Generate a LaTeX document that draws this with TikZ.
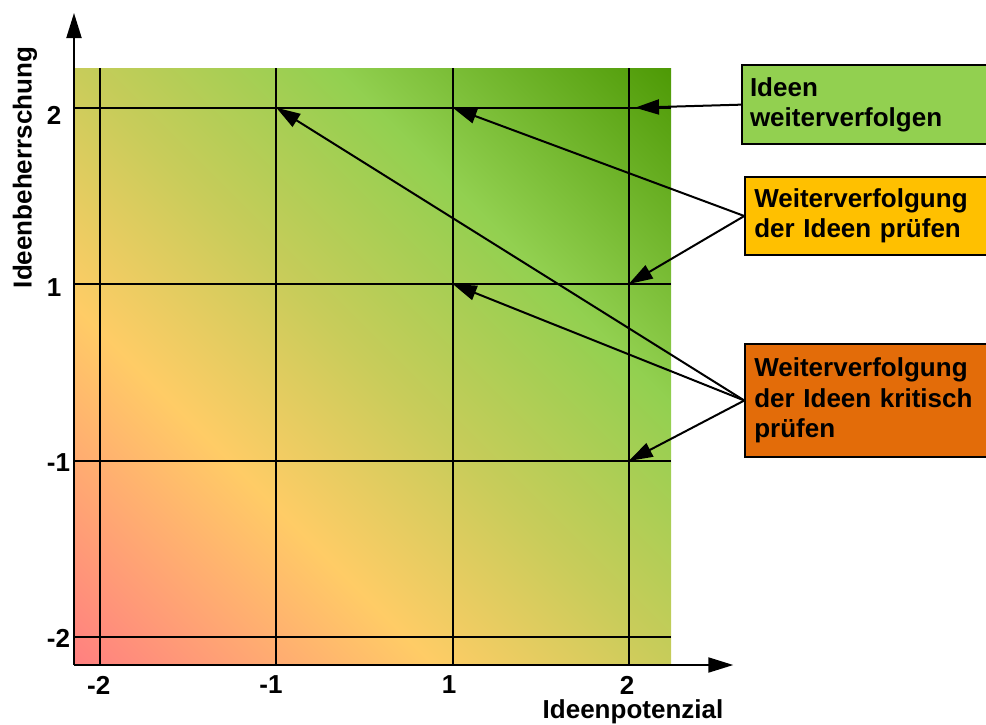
\documentclass[tikz,border=0pt]{standalone}
\usepackage{fontspec}
\setmainfont{Liberation Sans}
\usetikzlibrary{arrows.meta}
\definecolor{cpink}{HTML}{FF8080}
\definecolor{cyel}{HTML}{FFCC66}
\definecolor{cmid}{HTML}{C8CC5A}
\definecolor{clg}{HTML}{92D050}
\definecolor{cdg}{HTML}{4E9A06}
\definecolor{boxgreen}{HTML}{92D050}
\definecolor{boxyellow}{HTML}{FFC000}
\definecolor{boxorange}{HTML}{E36C09}
\pgfdeclarehorizontalshading{ideagrad}{100bp}{color(0bp)=(cpink); color(14.64bp)=(cpink); color(35.86bp)=(cyel); color(50bp)=(cmid); color(65.56bp)=(clg); color(85.36bp)=(cdg); color(100bp)=(cdg)}
\begin{document}
\begin{tikzpicture}[x=1pt,y=-1pt,
  every node/.style={font=\fontsize{26}{30.5}\selectfont\bfseries},
  gridline/.style={line width=2pt,black},
  axisline/.style={line width=2pt,black,-{Triangle[length=25pt,width=15pt]}},
  conn/.style={line width=2pt,black,-{Triangle[length=24pt,width=15pt]}},
  lbl/.style={inner sep=0pt},
  infobox/.style={draw=black,line width=2pt,anchor=north west,align=left,inner ysep=2pt}]
\useasboundingbox (0,0) rectangle (986,724);
% gradient field
\shade[shading=ideagrad,shading angle=45] (74,68) rectangle (671,665);
% grid
\foreach \x in {100,276.3,452.7,628.7}
  \draw[gridline] (\x,68) -- (\x,665);
\foreach \y in {107.7,284,461,636.7}
  \draw[gridline] (74,\y) -- (671,\y);
% axes
\coordinate (org) at (74,665);
\coordinate (ytip) at (74,13);
\coordinate (xtip) at (733.3,665);
\draw[axisline] (org) -- (ytip);
\draw[axisline] (org) -- (xtip);
% tick labels
\node[lbl,anchor=west] (ly2) at (46.7,115.5) {2};
\node[lbl,anchor=west] (ly1) at (46.7,288) {1};
\node[lbl,anchor=west] (lym1) at (46.7,462.5) {-1};
\node[lbl,anchor=west] (lym2) at (46.7,638) {-2};
\node[lbl] (lxm2) at (98.7,685) {-2};
\node[lbl] (lxm1) at (271,685) {-1};
\node[lbl] (lx1) at (449,685) {1};
\node[lbl] (lx2) at (627,685) {2};
\node[lbl,anchor=base] (xtitle) at (633,718.3) {Ideenpotenzial};
\node[lbl,anchor=base,rotate=90] (ytitle) at (31.5,167.5) {Ideenbeherrschung};
% grid points
\coordinate (p22) at (628.7,107.7);
\coordinate (p22r) at (635,107.7);
\coordinate (pm12) at (276.3,107.7);
\coordinate (p12) at (452.7,107.7);
\coordinate (p21) at (628.7,284);
\coordinate (p11) at (452.7,284);
\coordinate (p2m1) at (628.7,461);
% boxes
\node[infobox,fill=boxgreen,inner xsep=8pt,text width=233pt,minimum height=79.3pt] (b1) at (741,64) {Ideen\\weiterverfolgen};
\node[infobox,fill=boxyellow,inner xsep=9pt,text width=228pt,minimum height=78.6pt] (b2) at (744.3,175.7) {Weiterverfolgung\\der Ideen prüfen};
\node[infobox,fill=boxorange,inner xsep=9pt,text width=228pt,minimum height=112.4pt] (b3) at (744.3,343.3) {Weiterverfolgung\\der Ideen kritisch\\prüfen};
% connectors
\draw[conn] (b1.west) -- (p22r);
\draw[conn] (b2.west) -- (p12);
\draw[conn] (b2.west) -- (p21);
\draw[conn] (b3.west) -- (pm12);
\draw[conn] (b3.west) -- (p11);
\draw[conn] (b3.west) -- (p2m1);
\end{tikzpicture}
\end{document}
